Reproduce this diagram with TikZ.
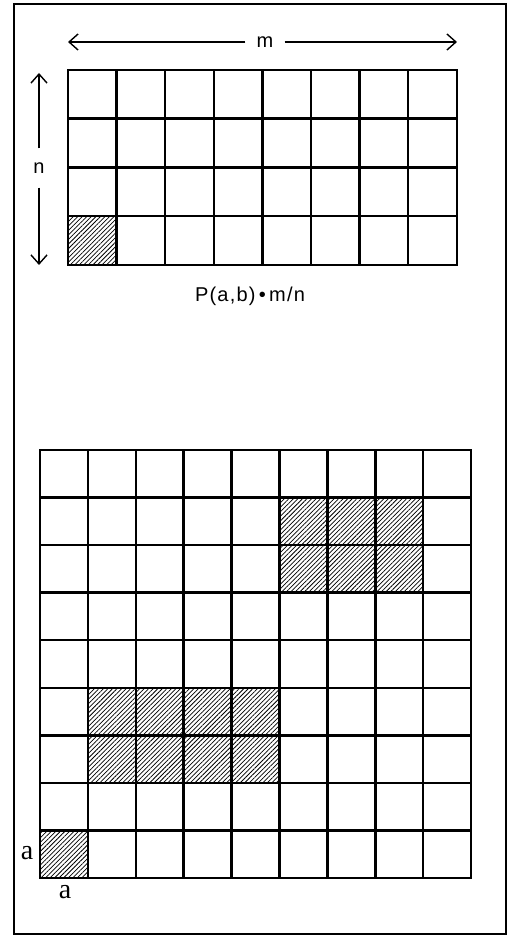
\documentclass[tikz,border=0pt]{standalone}
\usepackage{fontspec}
\setmainfont{Liberation Sans}
\newfontfamily\serifa{Liberation Serif}
\usetikzlibrary{arrows.meta,patterns.meta}

\begin{document}
\begin{tikzpicture}[
  x=1pt, y=1pt,
  frame/.style={line width=1.3pt},
  cell/.style={line width=2.5pt, line cap=rect},
  hatch/.style={pattern={Lines[angle=45,distance=3.2pt,line width=0.75pt]}},
  arr/.style={-{Straight Barb[length=9pt,width=16pt]}, line width=1.4pt},
  lbl/.style={font=\fontsize{20}{24}\selectfont, inner sep=11pt},
  albl/.style={font=\serifa\fontsize{28}{32}\selectfont, inner sep=0pt},
]
\useasboundingbox (0,0) rectangle (513,937);
\draw[frame] (14,3) rectangle (506,933);
% ================= top grid: m x n =================
\fill[hatch] (68,672) rectangle ++(48.6,48.75);
\foreach \i in {0,...,8} \draw[cell] (68+\i*48.6,672) -- ++(0,195);
\foreach \j in {0,...,4} \draw[cell] (68,672+\j*48.75) -- ++(388.8,0);
\node[lbl] (m) at (265,895) {m};
\coordinate (mL) at (68,895);
\coordinate (mR) at (457,895);
\draw[arr] (m) -- (mL); \draw[arr] (m) -- (mR);
\node[lbl, inner sep=14pt] (n) at (39,769) {n};
\coordinate (nT) at (39,864);
\coordinate (nB) at (39,672);
\draw[arr] (n) -- (nT); \draw[arr] (n) -- (nB);
\node[lbl, inner sep=2pt, font=\fontsize{20}{24}\selectfont\addfontfeatures{LetterSpace=6}] (pab) at (250,641) {P(a,b)\,•\,m/n};
% ================= bottom grid =================
\fill[hatch] (40,59) rectangle ++(47.9,47.56);
\fill[hatch] (40+1*47.9,59+2*47.56) rectangle ++(4*47.9,2*47.56);
\fill[hatch] (40+5*47.9,59+6*47.56) rectangle ++(3*47.9,2*47.56);
\foreach \i in {0,...,9} \draw[cell] (40+\i*47.9,59) -- ++(0,428);
\foreach \j in {0,...,9} \draw[cell] (40,59+\j*47.56) -- ++(431.1,0);
\node[albl] (aL) at (27,84) {a};
\node[albl] (aB) at (65,45) {a};
\end{tikzpicture}
\end{document}
